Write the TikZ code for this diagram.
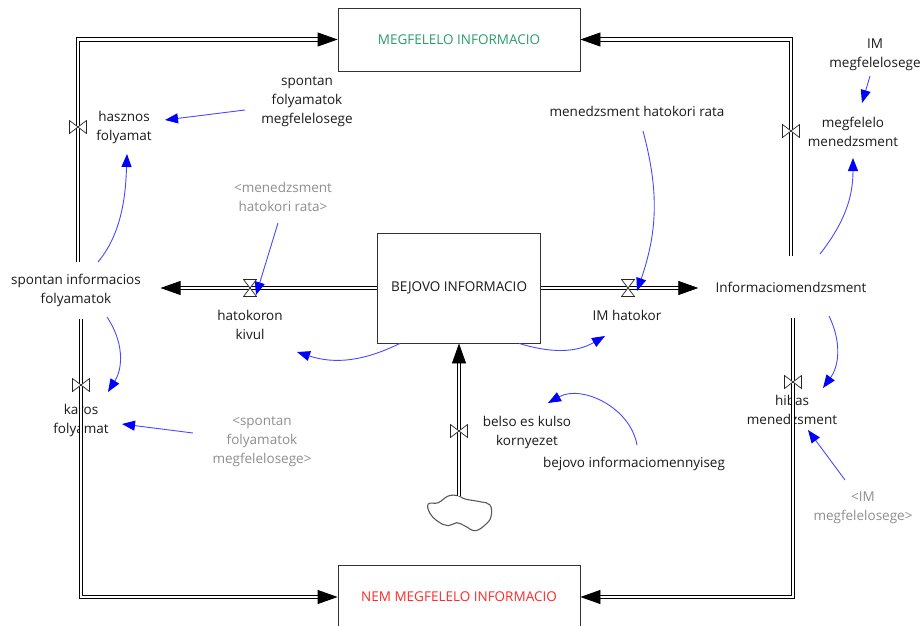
\documentclass[tikz,border=0pt]{standalone}
\usepackage{fontspec}
\setmainfont{Open Sans}
\usetikzlibrary{arrows.meta,calc}
\definecolor{txt}{HTML}{1A1A1A}
\definecolor{gtxt}{HTML}{8E8E8E}
\definecolor{grn}{HTML}{2A9D6E}
\definecolor{rd}{HTML}{FF2A2A}
\definecolor{linkc}{HTML}{4848FF}
\tikzset{
  lbl/.style={text=txt, font=\fontsize{13.5}{19}\selectfont, align=center, inner sep=2pt},
  ghost/.style={lbl, text=gtxt},
  stock/.style={draw=black!80, line width=0.8pt, minimum width=242pt, minimum height=63pt,
    font=\fontsize{13.5}{19}\selectfont, inner sep=0pt},
  flowpipe/.style={draw=black, line width=0.8pt, double=white, double distance=2.6pt,
    -{Triangle[length=20pt,width=14pt]}},
  link/.style={draw=linkc, line width=0.9pt, -{Triangle[length=13pt,width=10pt,fill=blue,color=blue]}},
  valveline/.style={draw=black!85, line width=0.7pt, fill=white, line join=miter},
  cloudline/.style={draw=black!65, line width=1.1pt},
  hvalve/.pic={\path[valveline] (-6.5,8.5) -- (6.5,8.5) -- (-6.5,-8.5) -- (6.5,-8.5) -- cycle;},
  vvalve/.pic={\path[valveline] (-8.5,6.5) -- (-8.5,-6.5) -- (8.5,6.5) -- (8.5,-6.5) -- cycle;}
}
\begin{document}
\begin{tikzpicture}[x=1pt,y=1pt]
\useasboundingbox (0,0) rectangle (921,-626);
\clip (0,0) rectangle (921,-626);

% stocks
\node[stock, text=grn] (top) at (459,-39.5) {MEGFELELO INFORMACIO};
\node[stock, text=rd] (bot) at (459,-597) {NEM MEGFELELO INFORMACIO};
\node[stock, text=txt, minimum width=163pt, minimum height=110pt] (mid) at (459,-288) {BEJOVO INFORMACIO};

% main variables at pipe ends
\node[lbl, inner xsep=19.5pt, inner ysep=12pt] (spont) at (76,-290.5) {spontan informacios\\folyamatok};
\node[lbl, inner xsep=17pt, inner ysep=26pt] (inf) at (791,-287) {Informaciomendzsment};

% flow labels
\node[lbl] (hasz) at (124,-127) {hasznos\\folyamat};
\node[lbl] (karos) at (81,-420) {karos\\folyamat};
\node[lbl] (hatk) at (250,-325) {hatokoron\\kivul};
\node[lbl] (imh) at (627,-315) {IM hatokor};
\node[lbl] (megm) at (853,-132) {megfelelo\\menedzsment};
\node[lbl] (hibm) at (792,-410) {hibas\\menedzsment};
\node[lbl] (belso) at (527,-432) {belso es kulso\\kornyezet};

% auxiliaries
\node[lbl] (bim) at (634,-464) {bejovo informaciomennyiseg};
\node[lbl] (mhr) at (637,-111) {menedzsment hatokori rata};
\node[lbl] (imm) at (875,-55) {IM\\megfelelosege};
\node[lbl] (sfm) at (307,-102) {spontan\\folyamatok\\megfelelosege};
\node[ghost] (gmhr) at (283,-196.5) {<menedzsment\\hatokori rata>};
\node[ghost] (gsfm) at (262,-442) {<spontan\\folyamatok\\megfelelosege>};
\node[ghost] (gimm) at (863,-508) {<IM\\megfelelosege>};

% cloud
\draw[cloudline] plot[smooth cycle, tension=0.7] coordinates {
  (428.3,-504) (438.3,-502.7) (448.3,-496) (458.3,-495.7) (465,-499) (480,-501.7)
  (490,-505) (491,-516.7) (485,-525) (475,-530.7) (465,-526) (456.7,-522.7)
  (448.3,-525.7) (438.3,-521.7) (430,-513.3)};
\coordinate (cloudtop) at (459,-496);

% pipes
\draw[flowpipe] ([xshift=2pt]spont.north) |- (top.west);
\draw[flowpipe] ([xshift=5pt]spont.south) |- (bot.west);
\draw[flowpipe] (inf.north) |- (top.east);
\draw[flowpipe] ([xshift=2pt]inf.south) |- (bot.east);
\draw[flowpipe] (mid.west) -- (mid.west -| spont.east);
\draw[flowpipe] (mid.east) -- (mid.east -| inf.west);
\draw[flowpipe] (cloudtop) -- (mid.south);

% valves
\coordinate (vhk) at (250,-288);
\coordinate (vim) at (628,-288);
\coordinate (vhasz) at (78,-127);
\coordinate (vkar) at (81,-385);
\coordinate (vmeg) at (791,-131);
\coordinate (vhib) at (793,-382);
\coordinate (vbel) at (459,-431);
\pic at (vhk) {hvalve};
\pic at (vim) {hvalve};
\pic at (vhasz) {vvalve};
\pic at (vkar) {vvalve};
\pic at (vmeg) {vvalve};
\pic at (vhib) {vvalve};
\pic at (vbel) {vvalve};

% links
\draw[link] ([shift={(-62,-8)}]sfm.center) -- ([shift={(41,7)}]hasz.center);
\draw[link] ([shift={(22,28.5)}]spont.center) to[out=50,in=-92,out distance=40pt,in distance=35pt] ([shift={(3,-27)}]hasz.center);
\draw[link] ([shift={(-5,-26.5)}]gmhr.center) -- ([shift={(6,-7)}]vhk);
\draw[link] ([xshift=-59pt]mid.south) to[out=206,in=-18] ([shift={(47,-27)}]hatk.center);
\draw[link] ([xshift=60pt]mid.south) to[out=-17,in=-150] ([shift={(-22,-21)}]imh.center);
\draw[link] ([shift={(6,-20)}]mhr.center) to[out=285,in=71] ([shift={(9,-3)}]vim);
\draw[link] ([shift={(-5,-21)}]imm.center) -- ([shift={(9,29)}]megm.center);
\draw[link] ([shift={(29,33)}]inf.center) to[out=52,in=-90] ([shift={(0,-26)}]megm.center);
\draw[link] ([shift={(38,-29)}]inf.center) to[out=296,in=54] ([shift={(31,22)}]hibm.center);
\draw[link] ([shift={(-18,28)}]gimm.center) -- ([shift={(16,-20)}]hibm.center);
\draw[link] ([shift={(31,-26.5)}]spont.center) to[out=304,in=58] ([shift={(27,28)}]karos.center);
\draw[link] ([shift={(-69,9)}]gsfm.center) -- ([shift={(41,-4)}]karos.center);
\draw[link] ([shift={(3,19)}]bim.center) to[out=100,in=29] ([shift={(21,29)}]belso.center);
\end{tikzpicture}
\end{document}
